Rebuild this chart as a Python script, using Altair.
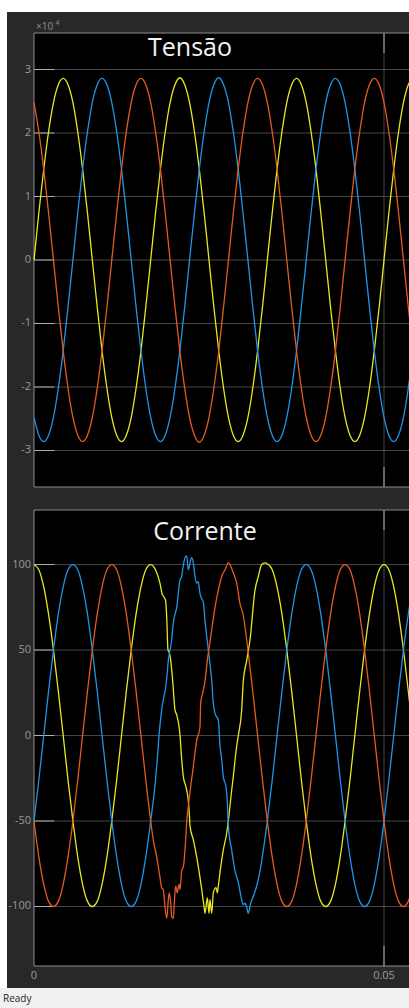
import altair as alt
import pandas as pd

# ---------------- data (time in ms) ----------------
SERIES = ["Fase A", "Fase B", "Fase C"]
LINE_COLORS = ["#e8e820", "#1e96e8", "#e85a23"]

T = [0.0, 0.69, 1.39, 2.08, 2.78, 3.47, 4.17, 4.86, 5.56, 6.25, 6.94, 7.64, 8.33, 9.03, 9.72, 10.42,
     11.11, 11.81, 12.5, 13.19, 13.89, 14.58, 15.28, 15.97, 16.67, 17.36, 18.06, 18.75, 19.44, 20.14,
     20.83, 21.53, 22.22, 22.92, 23.61, 24.31, 25.0, 25.69, 26.39, 27.08, 27.78, 28.47, 29.17, 29.86,
     30.56, 31.25, 31.94, 32.64, 33.33, 34.03, 34.72, 35.42, 36.11, 36.81, 37.5, 38.19, 38.89, 39.58,
     40.28, 40.97, 41.67, 42.36, 43.06, 43.75, 44.44, 45.14, 45.83, 46.53, 47.22, 47.92, 48.61, 49.31,
     50.0, 50.69, 51.39, 52.08, 52.78, 53.47, 54.17]

# Tensão (x 1e4)
VA = [0, 0.74, 1.43, 2.02, 2.48, 2.76, 2.86, 2.76, 2.48, 2.02, 1.43, 0.74, 0, -0.74, -1.43, -2.02, -2.48, -2.76, -2.86, -2.76, -2.48, -2.02, -1.43, -0.74,
      0, 0.74, 1.43, 2.02, 2.48, 2.76, 2.87, 2.76, 2.48, 2.02, 1.43, 0.74, 0, -0.74, -1.43, -2.02, -2.48, -2.76, -2.86, -2.76, -2.48, -2.02, -1.43, -0.74,
      0, 0.74, 1.43, 2.02, 2.48, 2.76, 2.86, 2.76, 2.48, 2.02, 1.43, 0.74, 0, -0.74, -1.43, -2.02, -2.48, -2.76, -2.86, -2.76, -2.48, -2.02, -1.43, -0.74,
      0, 0.74, 1.43, 2.02, 2.48, 2.76, 2.86]
VB = [-2.48, -2.76, -2.86, -2.76, -2.48, -2.02, -1.43, -0.74,
      0, 0.74, 1.43, 2.02, 2.48, 2.76, 2.86, 2.76, 2.48, 2.02, 1.43, 0.74, 0, -0.74, -1.43, -2.02, -2.48, -2.76, -2.86, -2.76, -2.48, -2.02, -1.43, -0.74,
      0, 0.74, 1.43, 2.02, 2.48, 2.76, 2.87, 2.76, 2.48, 2.02, 1.43, 0.74, 0, -0.74, -1.43, -2.02, -2.48, -2.76, -2.86, -2.76, -2.48, -2.02, -1.43, -0.74,
      0, 0.74, 1.43, 2.02, 2.48, 2.76, 2.86, 2.76, 2.48, 2.02, 1.43, 0.74, 0, -0.74, -1.43, -2.02, -2.48, -2.76, -2.86, -2.76, -2.48, -2.02, -1.43]
VC = [2.48, 2.02, 1.43, 0.74, 0, -0.74, -1.43, -2.02, -2.48, -2.76, -2.86, -2.76, -2.48, -2.02, -1.43, -0.74,
      0, 0.74, 1.43, 2.02, 2.48, 2.76, 2.86, 2.76, 2.48, 2.02, 1.43, 0.74, 0, -0.74, -1.43, -2.02, -2.48, -2.76, -2.87, -2.76, -2.48, -2.02, -1.43, -0.74,
      0, 0.74, 1.43, 2.02, 2.48, 2.76, 2.86, 2.76, 2.48, 2.02, 1.43, 0.74, 0, -0.74, -1.43, -2.02, -2.48, -2.76, -2.86, -2.76, -2.48, -2.02, -1.43, -0.74,
      0, 0.74, 1.43, 2.02, 2.48, 2.76, 2.86, 2.76, 2.48, 2.02, 1.43, 0.74, 0, -0.74, -1.43]

# Corrente
IA_T = [0.0, 0.69, 1.39, 2.08, 2.78, 3.47, 4.17, 4.86, 5.56, 6.25, 6.94, 7.64, 8.33, 9.03, 9.72, 10.42,
        11.11, 11.81, 12.5, 13.19, 13.89, 14.58, 15.28, 15.97, 16.67, 17.36,
        18.0, 18.29, 18.57, 18.79, 18.96, 19.14, 19.29, 19.5, 19.81, 20.14, 20.39, 20.76, 20.86, 21.1, 21.33,
        21.71, 22.04, 22.19, 22.29, 22.76, 23.24, 23.71, 23.96, 24.29, 24.43, 24.76, 25.0, 25.14, 25.39, 25.61,
        26.0, 26.19, 26.33, 26.67, 27.04, 27.53, 27.76, 28.24, 28.47, 28.96, 29.19, 29.67, 29.9, 30.39, 30.86,
        31.57, 32.04, 32.53, 33.0, 33.47,
        34.03, 34.72, 35.42, 36.11, 36.81, 37.5, 38.19, 38.89, 39.58, 40.28, 40.97, 41.67, 42.36, 43.06, 43.75,
        44.44, 45.14, 45.83, 46.53, 47.22, 47.92, 48.61, 49.31, 50.0, 50.69, 51.39, 52.08, 52.78, 53.47, 54.17]
IA_V = [100, 97, 87, 71, 50, 26, 0, -26, -50, -71, -87, -97, -100, -97, -87, -71, -50, -26, 0, 26, 50, 71, 87, 97, 100, 97,
        89, 83, 81, 79, 69, 50, 49, 45, 32, 15, 12, 4, 0, -14, -24,
        -30, -38, -46, -53, -61, -71, -83, -90, -100, -104, -95, -104, -96, -104, -92,
        -89, -92, -88, -77, -67, -57, -50, -32, -24, -6, 0, 15, 32, 44, 56,
        85, 93, 100, 101, 100,
        97, 87, 71, 50, 26, 0, -26, -50, -71, -87, -97, -100, -97, -87, -71,
        -50, -26, 0, 26, 50, 71, 87, 97, 100, 97, 87, 71, 50, 26, 0]

IB_T = [0.0, 0.69, 1.39, 2.08, 2.78, 3.47, 4.17, 4.86, 5.56, 6.25, 6.94, 7.64, 8.33, 9.03, 9.72, 10.42,
        11.11, 11.81, 12.5, 13.19, 13.89, 14.58, 15.28, 15.97, 16.67, 17.36,
        17.61, 17.86, 18.24, 18.93, 19.19, 19.67, 19.9, 20.39, 20.86, 21.1,
        21.24, 21.57, 21.81, 22.04, 22.29, 22.53, 22.76, 23.0, 23.24, 23.47,
        23.71, 23.96, 24.19, 24.43, 24.67, 24.9, 25.14, 25.39, 25.61, 25.86,
        26.33, 26.57, 26.81, 27.04, 27.43, 27.61, 27.76, 28.24, 28.71, 29.19,
        29.67, 29.9, 30.14, 30.36, 30.61, 30.96, 31.33, 31.81, 32.29, 32.76,
        33.33, 34.03, 34.72, 35.42, 36.11, 36.81, 37.5, 38.19, 38.89, 39.58, 40.28, 40.97, 41.67, 42.36,
        43.06, 43.75, 44.44, 45.14, 45.83, 46.53, 47.22, 47.92, 48.61, 49.31, 50.0, 50.69, 51.39, 52.08,
        52.78, 53.47, 54.17]
IB_V = [-50, -26, 0, 26, 50, 71, 87, 97, 100, 97, 87, 71, 50, 26, 0, -26, -50, -71, -87, -97, -100, -97, -87, -71, -50, -26,
        -14, 0, 15, 32, 44, 56, 66, 75, 91, 93,
        97, 104, 105, 97, 101, 104, 101, 93, 89, 90,
        83, 80, 78, 67, 58, 50, 42, 32, 19, 13,
        9, -6, -14, -24, -30, -38, -53, -67, -79, -86,
        -96, -99, -98, -100, -104, -98, -94, -88, -79, -67,
        -50, -26, 0, 26, 50, 71, 87, 97, 100, 97, 87, 71, 50, 26,
        0, -26, -50, -71, -87, -97, -100, -97, -87, -71, -50, -26, 0, 26,
        50, 71, 87]

IC_T = [0.0, 0.69, 1.39, 2.08, 2.78, 3.47, 4.17, 4.86, 5.56, 6.25, 6.94, 7.64, 8.33, 9.03, 9.72, 10.42,
        11.11, 11.81, 12.5, 13.19, 13.89, 14.58, 15.28, 15.97, 16.67,
        17.04, 17.53, 18.0, 18.24, 18.47, 18.71, 18.96, 19.19, 19.33, 19.53,
        19.67, 19.9, 20.04, 20.24, 20.47, 20.71, 20.86, 21.1, 21.33, 21.57,
        21.81, 22.2, 22.76, 23.0, 23.24, 23.71, 23.81, 24.1, 24.43, 24.76,
        24.9, 25.39, 25.86, 26.33, 26.81, 27.29, 27.76, 28.0, 28.47, 28.96, 29.43,
        29.86, 30.56, 31.25, 31.94, 32.64, 33.33, 34.03, 34.72, 35.42, 36.11, 36.81, 37.5, 38.19, 38.89,
        39.58, 40.28, 40.97, 41.67, 42.36, 43.06, 43.75, 44.44, 45.14, 45.83, 46.53, 47.22, 47.92, 48.61,
        49.31, 50.0, 50.69, 51.39, 52.08, 52.78, 53.47, 54.17]
IC_V = [-50, -71, -87, -97, -100, -97, -87, -71, -50, -26, 0, 26, 50, 71, 87, 97, 100, 97, 87, 71, 50, 26, 0, -26, -50,
        -61, -71, -83, -89, -90, -100, -107, -96, -92, -98,
        -106, -107, -98, -88, -92, -87, -90, -79, -77, -67,
        -51, -36, -18, -10, -3, 5, 19, 25, 32, 44,
        48, 62, 75, 85, 93, 97, 101, 100, 95, 89, 77,
        71, 50, 26, 0, -26, -50, -71, -87, -97, -100, -97, -87, -71, -50,
        -26, 0, 26, 50, 71, 87, 97, 100, 97, 87, 71, 50, 26, 0,
        -26, -50, -71, -87, -97, -100, -97, -87]

V_TICKS = [-3, -2, -1, 0, 1, 2, 3]
V_LABELS = ["-3", "-2", "-1", "0", "1", "2", "3"]
I_TICKS = [-100, -50, 0, 50, 100]
I_LABELS = ["-100", "-50", "0", "50", "100"]
X_TICKS = [0, 50]
X_LABELS = ["0", "0.05"]

for a, b in [(T, VA), (T, VB), (T, VC), (IA_T, IA_V), (IB_T, IB_V), (IC_T, IC_V)]:
    assert len(a) == len(b), (len(a), len(b))


def long(pairs):
    rows = []
    for name, ts, vs in pairs:
        for t, v in zip(ts, vs):
            rows.append({"t": t, "v": v, "s": name})
    return pd.DataFrame(rows)


volt = long([("Fase A", T, VA), ("Fase B", T, VB), ("Fase C", T, VC)])
curr = long([("Fase A", IA_T, IA_V), ("Fase B", IB_T, IB_V), ("Fase C", IC_T, IC_V)])

# ---------------- styling / scales ----------------
FONT = "Open Sans"
XS = alt.Scale(domain=[0, 53.57], range=[34, 409], nice=False, zero=False)
YV = alt.Scale(domain=[-3.575, 3.575], range=[487, 33], nice=False, zero=False)
YI = alt.Scale(domain=[-134.8, 131.9], range=[966, 510], nice=False, zero=False)
CS = alt.Scale(domain=SERIES, range=LINE_COLORS)

one = pd.DataFrame({"k": [0]})


def box(x1, x2, y1, y2, color):
    return alt.Chart(one).mark_rect(color=color).encode(
        x=alt.value(x1), x2=alt.value(x2), y=alt.value(y1), y2=alt.value(y2))


def label(text, x, y, size, color, align="left", font=FONT):
    return alt.Chart(one).mark_text(align=align, baseline="alphabetic", font=font,
                                    fontSize=size, color=color).encode(
        x=alt.value(x), y=alt.value(y), text=alt.value(text))


def panel(ys, ymin, ymax, ticks, labels, tl, df, title, tx, ty):
    frame = pd.DataFrame({"x0": [0], "x1": [54], "y0": [ymin], "y1": [ymax]})
    bg = alt.Chart(frame).mark_rect(fill="#000000", stroke="#8c8c8c", strokeWidth=1).encode(
        x=alt.X("x0:Q", scale=XS, axis=None), x2="x1",
        y=alt.Y("y0:Q", scale=ys, axis=None), y2="y1")
    g = pd.DataFrame({"y": ticks, "x0": [0] * len(ticks), "x1": [54] * len(ticks),
                      "xt": [2.9] * len(ticks)})
    grid = alt.Chart(g).mark_rule(color="#474747", strokeWidth=1).encode(
        x=alt.X("x0:Q", scale=XS, axis=None), x2="x1", y=alt.Y("y:Q", scale=ys, axis=None))
    tks = alt.Chart(g).mark_rule(color="#b0b0b0", strokeWidth=1).encode(
        x=alt.X("x0:Q", scale=XS, axis=None), x2="xt", y=alt.Y("y:Q", scale=ys, axis=None))
    vg = pd.DataFrame({"x": [50], "y0": [ymin], "y1": [ymax]})
    vgrid = alt.Chart(vg).mark_rule(color="#474747", strokeWidth=1).encode(
        x=alt.X("x:Q", scale=XS, axis=None), y=alt.Y("y0:Q", scale=ys, axis=None), y2="y1")
    vt = pd.DataFrame({"x": [50, 50], "y0": [ymax, ymin], "y1": [ymax - tl, ymin + tl]})
    vtk = alt.Chart(vt).mark_rule(color="#b0b0b0", strokeWidth=1).encode(
        x=alt.X("x:Q", scale=XS, axis=None), y=alt.Y("y0:Q", scale=ys, axis=None), y2="y1")
    lines = alt.Chart(df).mark_line(strokeWidth=1.3, interpolate="monotone").encode(
        x=alt.X("t:Q", scale=XS, axis=None),
        y=alt.Y("v:Q", scale=ys, axis=None),
        color=alt.Color("s:N", scale=CS, legend=None))
    ld = pd.DataFrame({"y": ticks, "lab": labels})
    labs = alt.Chart(ld).mark_text(align="right", baseline="middle", font=FONT,
                                   fontSize=11, color="#9a9a9a").encode(
        x=alt.value(31), y=alt.Y("y:Q", scale=ys, axis=None), text="lab:N")
    ttl = label(title, tx, ty, 25, "#f2f2f2", align="center")
    return [bg, grid, vgrid, tks, vtk, lines, labs, ttl]


xl = pd.DataFrame({"x": X_TICKS, "lab": X_LABELS})
xlabs = alt.Chart(xl).mark_text(align="center", baseline="middle", font=FONT,
                                fontSize=11, color="#9a9a9a").encode(
    x=alt.X("x:Q", scale=XS, axis=None), y=alt.value(976), text="lab:N")

layers = [
    box(7, 409, 12, 988, "#282828"),
    box(0, 409, 988, 1008, "#f0f0f0"),
    label("Ready", 3, 1002, 10, "#1e1e1e"),
    label("×10", 36, 30, 10, "#8c8c8c"),
    label("4", 55.5, 25, 7, "#8c8c8c"),
]
layers += panel(YV, -3.575, 3.575, V_TICKS, V_LABELS, 0.315, volt, "Tensão", 190, 56)
layers += panel(YI, -134.8, 131.9, I_TICKS, I_LABELS, 11.7, curr, "Corrente", 205, 540)
layers.append(xlabs)

chart = alt.layer(*layers).resolve_scale(
    x="independent", y="independent", color="independent"
).properties(
    width=409, height=1008, padding=0,
    autosize=alt.AutoSizeParams(type="none"),
    background="#ffffff",
).configure_view(strokeWidth=0)

chart.save("out.html", embed_options={"renderer": "svg", "actions": False})
